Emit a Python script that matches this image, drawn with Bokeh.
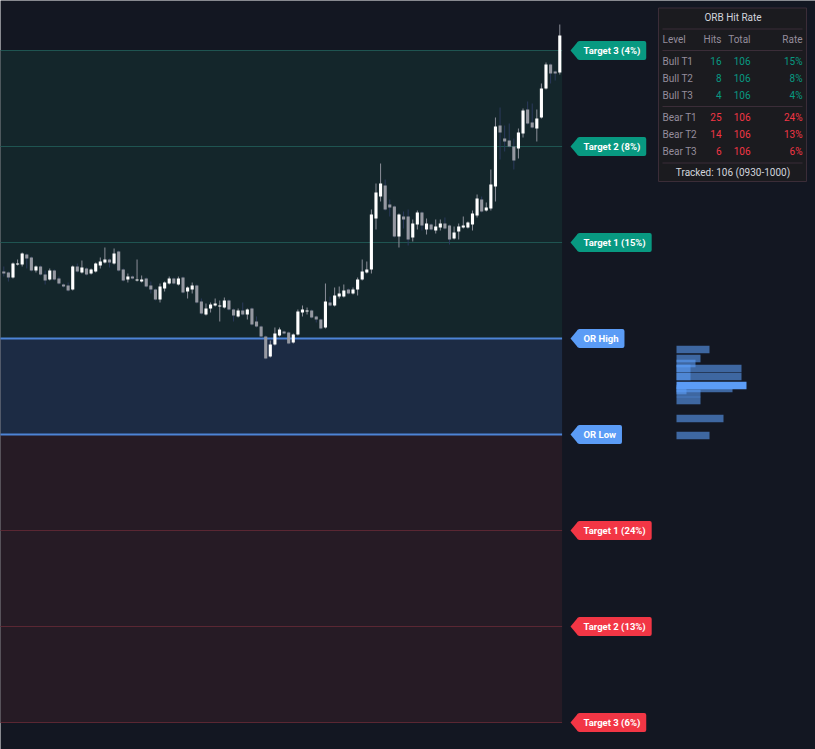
from bokeh.plotting import figure
from bokeh.models import Range1d, Label, ColumnDataSource
from bokeh.core.properties import value
from bokeh.embed import file_html
from bokeh.resources import INLINE

# ---------------- data ----------------
opens = [5040.75, 5040.5, 5039.25, 5042.5, 5042.5, 5045, 5044.25, 5041, 5042, 5040,
         5038.75, 5041, 5039, 5037.5, 5037.25, 5036.25, 5042, 5040.5, 5041.5, 5040.25,
         5040.75, 5042.25, 5043, 5043.75, 5042.75, 5045.75, 5041.25, 5038.75, 5039.5, 5038.5,
         5038.25, 5039, 5037.25, 5036.25, 5033.75, 5036.5, 5037.75, 5039, 5037.5, 5039.25,
         5035.75, 5036.25, 5037.25, 5033.25, 5030, 5031.5, 5032.25, 5032, 5031.75, 5033.5,
         5031.25, 5029.5, 5031, 5030, 5031.5, 5028.25, 5027, 5024.5, 5019.5, 5022.5,
         5024.75, 5025.75, 5025.5, 5023, 5025, 5030.5, 5030.75, 5031, 5029.5, 5028.75,
         5026.75, 5033, 5032.25, 5034.5, 5034.5, 5036.25, 5035.25, 5036.25, 5038.75, 5040.5,
         5041.25, 5054, 5059.5, 5062.25, 5057.5, 5057, 5049.5, 5054.5, 5054.5, 5049.25,
         5052.5, 5055.5, 5051.25, 5052.5, 5051, 5051.75, 5052.75, 5052.25, 5049, 5050.75,
         5051.75, 5051.75, 5052.5, 5054.75, 5058.75, 5056, 5056.5, 5062, 5077.25, 5074,
         5073.5, 5072, 5071.5, 5075.25, 5081.25, 5078, 5076.5, 5079.25, 5086.5, 5092.5,
         5090.75, 5090.5]
highs = [5042, 5040.75, 5043, 5043.75, 5045.5, 5045.25, 5044.5, 5042.25, 5042.25, 5041,
         5041.5, 5041.25, 5039.5, 5037.75, 5038, 5042.25, 5042.75, 5043.5, 5041.75, 5041.5,
         5043, 5044.25, 5046.75, 5044, 5046.5, 5046, 5041.5, 5040.25, 5039.75, 5043.75,
         5039.75, 5039.25, 5038.25, 5036.5, 5037.75, 5038.25, 5039.5, 5039.25, 5039.5, 5039.5,
         5037, 5038, 5037.5, 5034, 5032.75, 5033, 5034, 5033.5, 5034.25, 5033.75,
         5031.5, 5031.5, 5033, 5031.5, 5031.75, 5029.5, 5027.25, 5024.75, 5023.5, 5026.75,
         5026.75, 5026, 5025.75, 5025.25, 5031.25, 5032.25, 5031.75, 5031.25, 5029.75, 5029,
         5037.75, 5034.5, 5036.75, 5037, 5037.5, 5036.5, 5036.75, 5039.25, 5043.75, 5043.25,
         5056.25, 5062.75, 5067.75, 5063.75, 5058.75, 5057.25, 5055.25, 5055.75, 5056.25, 5053.75,
         5056, 5055.75, 5054, 5052.75, 5053.75, 5053.75, 5054.25, 5052.5, 5052, 5052.75,
         5054.5, 5053.25, 5056, 5060, 5059.5, 5058, 5066.25, 5079.25, 5081.75, 5077.25,
         5077.75, 5074, 5076.5, 5081.5, 5083.25, 5082.75, 5081.25, 5087.75, 5093, 5092.75,
         5091, 5102.5]
lows = [5039.5, 5038.25, 5039, 5042.25, 5042, 5041.5, 5040.75, 5040.5, 5039.75, 5037.5,
        5038.5, 5038.5, 5037.5, 5036.75, 5035.75, 5036, 5040.5, 5040.25, 5039.75, 5040,
        5040.5, 5041.5, 5042.75, 5041.75, 5042.5, 5040.75, 5038.25, 5038, 5038.75, 5038.25,
        5038, 5036.75, 5035.25, 5033.5, 5033, 5035.75, 5037.5, 5037.5, 5037.25, 5035.25,
        5034, 5035.25, 5032.75, 5030, 5029.75, 5030.5, 5032, 5028.25, 5031.5, 5031,
        5028.25, 5029.25, 5029.75, 5028.75, 5027.25, 5026.75, 5024.25, 5018.75, 5019.25, 5022.25,
        5024.5, 5025, 5022.5, 5022.75, 5024.75, 5029.5, 5030, 5029, 5028, 5026.25,
        5026.5, 5032, 5032, 5034, 5034.25, 5035, 5035, 5034.75, 5038.5, 5040.25,
        5040.25, 5051.25, 5058.25, 5056, 5054.5, 5049.25, 5046.75, 5051.5, 5047.25, 5048.25,
        5051.25, 5051, 5050, 5051, 5050.25, 5051, 5051.25, 5047.5, 5048.75, 5048.75,
        5051.5, 5051.5, 5051, 5054.25, 5055.5, 5055.75, 5056, 5058.25, 5068.75, 5070.75,
        5071.75, 5066.25, 5069, 5074.25, 5077.5, 5076.5, 5073.25, 5079, 5086.25, 5087.75,
        5088.5, 5090]
closes = [5040.25, 5039.25, 5042.75, 5042.75, 5045.25, 5044, 5041, 5042, 5040, 5038.5,
          5041, 5038.75, 5037.75, 5037, 5036, 5042, 5040.75, 5041.75, 5040, 5041.25,
          5042.75, 5043.25, 5043.75, 5043, 5045.25, 5041, 5038.5, 5039.5, 5039, 5038.75,
          5038.75, 5037, 5036.25, 5033.75, 5037, 5038, 5039, 5037.75, 5039, 5035.5,
          5036.75, 5037.25, 5033, 5030.25, 5031.5, 5032.5, 5032.75, 5032.25, 5033.5, 5031.25,
          5029.75, 5031, 5030, 5031.25, 5027.5, 5027, 5024.5, 5019, 5022.5, 5025.25,
          5026.25, 5025.25, 5022.75, 5025, 5030.75, 5031.25, 5031, 5029.25, 5028.75, 5026.5,
          5033.25, 5032.25, 5034.75, 5035.25, 5036, 5035.25, 5036.25, 5038.75, 5040.75, 5041.25,
          5055, 5060.5, 5062.75, 5056.25, 5056.75, 5049.5, 5055, 5053.75, 5048.75, 5052.75,
          5055.5, 5052.25, 5052.75, 5051.25, 5052, 5052.75, 5051.5, 5048.75, 5050.5, 5052,
          5052.25, 5053, 5055.25, 5059, 5055.75, 5056.75, 5062.5, 5077, 5075.5, 5073.25,
          5072, 5068.5, 5075.5, 5081, 5077.75, 5076.75, 5079, 5086.5, 5092.5, 5090.25,
          5090.25, 5099.75]

or_high = 5024.0
or_low = 5000.0
bull_targets = [5048.0, 5072.0, 5096.0]
bear_targets = [4976.0, 4952.0, 4928.0]

table_levels = ["Bull T1", "Bull T2", "Bull T3", "Bear T1", "Bear T2", "Bear T3"]
table_hits = [16, 8, 4, 25, 14, 6]
table_totals = [106, 106, 106, 106, 106, 106]
table_rates = [15, 8, 4, 24, 13, 6]
tracked = 106
session = "0930-1000"

vp_price = [5021.25, 5019.0, 5017.75, 5016.5, 5014.5, 5016.5, 5014.5, 5011.5, 5010.25, 5008.5, 5011.0, 5004.0, 4999.75]
vp_volume = [33, 24, 19, 65, 65, 14, 14, 56, 24, 24, 10, 47, 33]
poc_price = 5012.25
poc_volume = 70

# ---------------- style ----------------
BG = "#131722"
BULL = "#089981"
BEAR = "#f23645"
ORC = "#5b9cf6"
FONT = "Roboto"

n = len(opens)
x_left, x_right = -1.0, n - 0.5

p = figure(width=815, height=749, output_backend="svg", toolbar_location=None,
           x_range=Range1d(-0.718, 176.65), y_range=Range1d(4921.25, 5108.5),
           min_border=0, background_fill_color=BG, border_fill_color=BG,
           outline_line_color=None)
p.axis.visible = False
p.grid.visible = False
p.extra_x_ranges = {"px": Range1d(0, 815), "vp": Range1d(-676, 139)}
p.extra_y_ranges = {"px": Range1d(749, 0)}

# zones
p.quad(left=[x_left], right=[x_right], bottom=[or_high], top=[bull_targets[-1]],
       fill_color="#14262b", line_color=None)
p.quad(left=[x_left], right=[x_right], bottom=[or_low], top=[or_high],
       fill_color="#1c2b44", line_color=None)
p.quad(left=[x_left], right=[x_right], bottom=[bear_targets[-1]], top=[or_low],
       fill_color="#261b25", line_color=None)

# level lines
p.segment(x0=[x_left] * 3, x1=[x_right] * 3, y0=bull_targets, y1=bull_targets,
          line_color="#1f5451", line_width=1)
p.segment(x0=[x_left] * 3, x1=[x_right] * 3, y0=bear_targets, y1=bear_targets,
          line_color="#5a2733", line_width=1)
p.segment(x0=[x_left] * 2, x1=[x_right] * 2, y0=[or_high, or_low], y1=[or_high, or_low],
          line_color="#4d84d6", line_width=2)

# candles
bull = [c >= o for o, c in zip(opens, closes)]
src = ColumnDataSource(dict(
    x=list(range(n)), high=highs, low=lows,
    top=[max(o, c) for o, c in zip(opens, closes)],
    bottom=[min(o, c) for o, c in zip(opens, closes)],
    body=["#ffffff" if b else "#9598a1" for b in bull],
    wick=["#8c8f99" if b else "#2b3a5c" for b in bull],
))
p.segment(x0="x", y0="low", x1="x", y1="high", source=src, line_color="wick", line_width=1)
p.vbar(x="x", width=0.68, top="top", bottom="bottom", source=src,
       fill_color="body", line_color=None)

# volume profile
p.hbar(y=vp_price, height=1.9, left=0, right=vp_volume, x_range_name="vp",
       fill_color=ORC, fill_alpha=0.6, line_color=None)
p.hbar(y=[poc_price], height=1.9, left=0, right=[poc_volume], x_range_name="vp",
       fill_color=ORC, fill_alpha=1.0, line_color=None)

# level tags
tags = []
for k, lv in enumerate(bull_targets):
    tags.append((lv, f"Target {k+1} ({table_rates[k]}%)", BULL))
tags.append((or_high, "OR High", ORC))
tags.append((or_low, "OR Low", ORC))
for k, lv in enumerate(bear_targets):
    tags.append((lv, f"Target {k+1} ({table_rates[3+k]}%)", BEAR))

hh = 2.25
p.patches(xs=[[570, 577.5, 577.5] for _ in tags],
          ys=[[lv, lv + hh, lv - hh] for lv, _, _ in tags],
          fill_color=[c for _, _, c in tags], line_color=None, x_range_name="px")
for lv, label_text, col in tags:
    p.add_layout(Label(x=577, y=lv, x_range_name="px", text=label_text,
                       text_align="left", text_baseline="middle",
                       text_font=FONT, text_font_size="9.5px", text_font_style="bold",
                       text_color="#ffffff", background_fill_color=col,
                       padding=dict(left=6, right=6, top=4, bottom=4), border_radius=2))

# table
p.quad(left=[658], right=[806], top=[7.5], bottom=[181], x_range_name="px", y_range_name="px",
       fill_color="#1b1b1f", line_color="#3b2d38", line_width=1)
p.segment(x0=[662] * 4, x1=[802] * 4, y0=[28.5, 50, 106, 162.5], y1=[28.5, 50, 106, 162.5],
          x_range_name="px", y_range_name="px", line_color="#3b2d38", line_width=1)

def txt(xs, ys, texts, align, color, size="10px", style="normal"):
    p.text(x=xs, y=ys, text=texts, x_range_name="px", y_range_name="px",
           text_align=align, text_baseline="middle", text_color=color,
           text_font=value(FONT), text_font_size=size, text_font_style=style)

txt([732.5], [17], ["ORB Hit Rate"], "center", "#d1d4dc")
GRAY = "#958d9c"
txt([662], [39], ["Level"], "left", GRAY)
txt([721], [39], ["Hits"], "right", GRAY)
txt([750], [39], ["Total"], "right", GRAY)
txt([802], [39], ["Rate"], "right", GRAY)

row_y = [60.5, 77.5, 94.5, 116.5, 133.5, 150.5]
row_col = [BULL] * 3 + [BEAR] * 3
txt([662] * 6, row_y, table_levels, "left", GRAY)
for i in range(6):
    txt([721], [row_y[i]], [str(table_hits[i])], "right", row_col[i])
    txt([750], [row_y[i]], [str(table_totals[i])], "right", row_col[i])
    txt([802], [row_y[i]], [f"{table_rates[i]}%"], "right", row_col[i])
txt([732.5], [172], [f"Tracked: {tracked} ({session})"], "center", "#d1d4dc")

open("out.html", "w").write(file_html(p, INLINE))
